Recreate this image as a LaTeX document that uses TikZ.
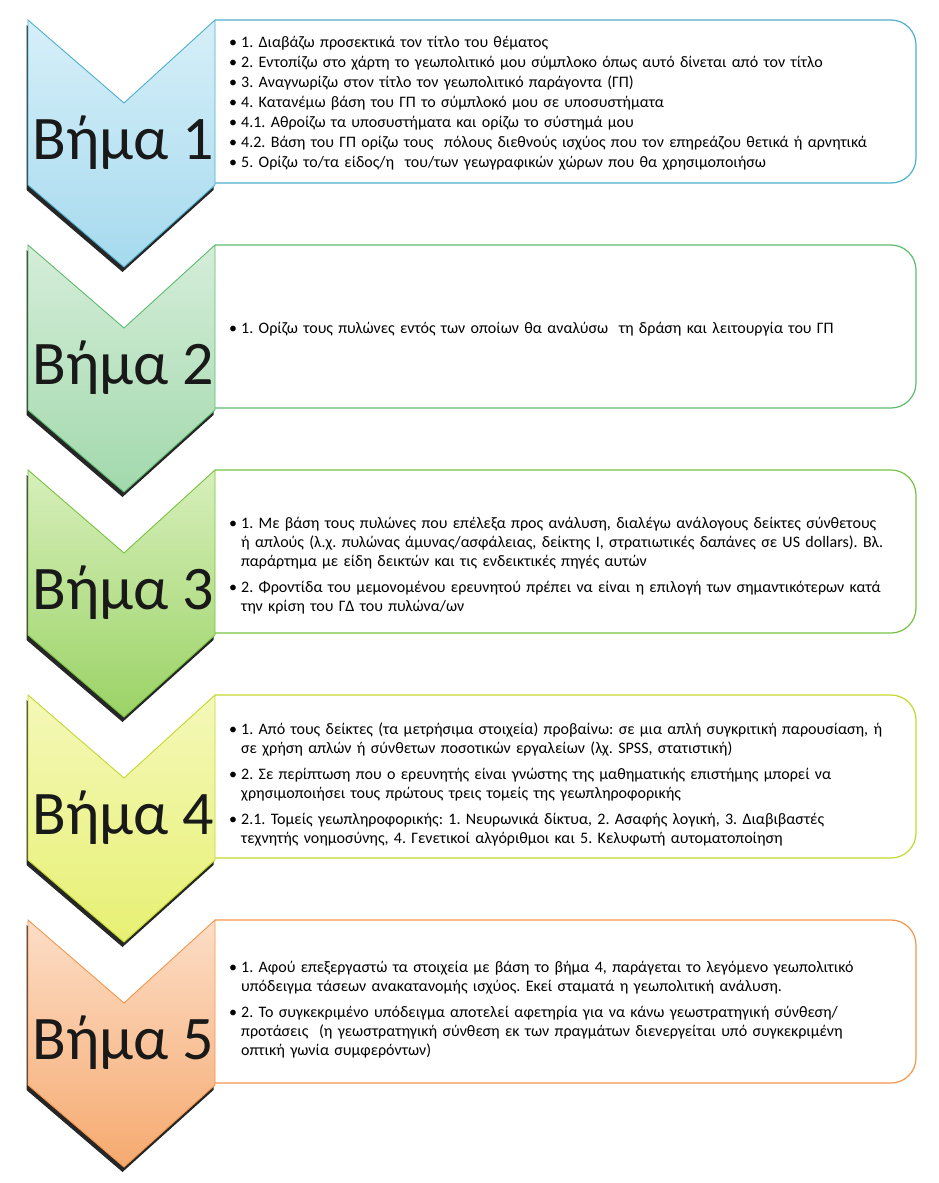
\documentclass[tikz,border=0pt]{standalone}
\usepackage{fontspec}
\setmainfont{Carlito}
\usepackage{xcolor}
\usepackage{tikz}

% colours of the five steps
\definecolor{skyline}{HTML}{4FAFCB}
\definecolor{skytop}{HTML}{D6EFF9}
\definecolor{skybot}{HTML}{A6DAEE}
\definecolor{mintline}{HTML}{5DBB6E}
\definecolor{minttop}{HTML}{D5EDD9}
\definecolor{mintbot}{HTML}{A2D9AC}
\definecolor{leafline}{HTML}{78C140}
\definecolor{leaftop}{HTML}{D7EFBB}
\definecolor{leafbot}{HTML}{9BD366}
\definecolor{limeline}{HTML}{C2D82C}
\definecolor{limetop}{HTML}{F4F8B9}
\definecolor{limebot}{HTML}{E7F073}
\definecolor{peachline}{HTML}{F4954C}
\definecolor{peachtop}{HTML}{FCDDC6}
\definecolor{peachbot}{HTML}{F6AA70}

\newcommand{\bul}[1]{\par\hangindent=12pt\hangafter=1\noindent\makebox[12pt][l]{•}#1\par}

\begin{document}
\begin{tikzpicture}[
  x=1pt, y=-1pt,
  chevron/.style={draw=#1line, line width=0.9pt, top color=#1top, bottom color=#1bot},
  chevshadow/.style={fill=black!85},
  panel/.style={draw=#1line, line width=1.2pt, rounded corners=25pt},
  steplabel/.style={font=\fontsize{62}{62}\selectfont, text=black!90, inner sep=0pt},
  itemtext/.style={anchor=west, align=left, text width=700pt, inner sep=0pt,
    font=\fontsize{16}{19}\selectfont\frenchspacing},
  gap/.style={execute at begin node={\setlength{\parskip}{#1}}}
]
\useasboundingbox (0,0) rectangle (938,1183);

\foreach \k/\c in {1/sky,2/mint,3/leaf,4/lime,5/peach}{
  \begin{scope}[shift={(0,{20+225*(\k-1)})}]
    \draw[panel=\c] (215,0) -- (916,0) -- (916,163) -- (215,163);
    \fill[chevshadow, shift={(-1.5,5)}] (28,0) -- (124,83) -- (215,0) -- (215,165) -- (124,247) -- (28,165) -- cycle;
    \draw[chevron=\c] (28,0) -- (124,83) -- (215,0) -- (215,165) -- (124,247) -- (28,165) -- cycle;
    \node[steplabel] (step\k) at (123,123) {Βήμα \k};
  \end{scope}
}

\node[itemtext, gap=1pt] (txt1) at (229,98.5) {%
  \bul{1. Διαβάζω προσεκτικά τον τίτλο του θέματος}
  \bul{2. Εντοπίζω στο χάρτη το γεωπολιτικό μου σύμπλοκο όπως αυτό δίνεται από τον τίτλο}
  \bul{3. Αναγνωρίζω στον τίτλο τον γεωπολιτικό παράγοντα (ΓΠ)}
  \bul{4. Κατανέμω βάση του ΓΠ το σύμπλοκό μου σε υποσυστήματα}
  \bul{4.1. Αθροίζω τα υποσυστήματα και ορίζω το σύστημά μου}
  \bul{4.2. Βάση του ΓΠ ορίζω τους\ \ πόλους διεθνούς ισχύος που τον επηρεάζου θετικά ή αρνητικά}
  \bul{5. Ορίζω το/τα είδος/η\ \ του/των γεωγραφικών χώρων που θα χρησιμοποιήσω}};

\node[itemtext] (txt2) at (229,325) {%
  \bul{1. Ορίζω τους πυλώνες εντός των οποίων θα αναλύσω\ \ τη δράση και λειτουργία του ΓΠ}};

\node[itemtext, gap=7pt] (txt3) at (229,558) {%
  \bul{1. Με βάση τους πυλώνες που επέλεξα προς ανάλυση, διαλέγω ανάλογους δείκτες σύνθετους\newline
    ή απλούς (λ.χ. πυλώνας άμυνας/ασφάλειας, δείκτης Ι, στρατιωτικές δαπάνες σε US dollars). Βλ.\newline
    παράρτημα με είδη δεικτών και τις ενδεικτικές πηγές αυτών}
  \bul{2. Φροντίδα του μεμονομένου ερευνητού πρέπει να είναι η επιλογή των σημαντικότερων κατά\newline
    την κρίση του ΓΔ του πυλώνα/ων}};

\node[itemtext, gap=7pt] (txt4) at (229,777) {%
  \bul{1. Από τους δείκτες (τα μετρήσιμα στοιχεία) προβαίνω: σε μια απλή συγκριτική παρουσίαση, ή\newline
    σε χρήση απλών ή σύνθετων ποσοτικών εργαλείων (λχ. SPSS, στατιστική)}
  \bul{2. Σε περίπτωση που ο ερευνητής είναι γνώστης της μαθηματικής επιστήμης μπορεί να\newline
    χρησιμοποιήσει τους πρώτους τρεις τομείς της γεωπληροφορικής}
  \bul{2.1. Τομείς γεωπληροφορικής: 1. Νευρωνικά δίκτυα, 2. Ασαφής λογική, 3. Διαβιβαστές\newline
    τεχνητής νοημοσύνης, 4. Γενετικοί αλγόριθμοι και 5. Κελυφωτή αυτοματοποίηση}};

\node[itemtext, gap=7pt] (txt5) at (229,1002) {%
  \bul{1. Αφού επεξεργαστώ τα στοιχεία με βάση το βήμα 4, παράγεται το λεγόμενο γεωπολιτικό\newline
    υπόδειγμα τάσεων ανακατανομής ισχύος. Εκεί σταματά η γεωπολιτική ανάλυση.}
  \bul{2. Το συγκεκριμένο υπόδειγμα αποτελεί αφετηρία για να κάνω γεωστρατηγική σύνθεση/\newline
    προτάσεις\ \ (η γεωστρατηγική σύνθεση εκ των πραγμάτων διενεργείται υπό συγκεκριμένη\newline
    οπτική γωνία συμφερόντων)}};
\end{tikzpicture}
\end{document}
